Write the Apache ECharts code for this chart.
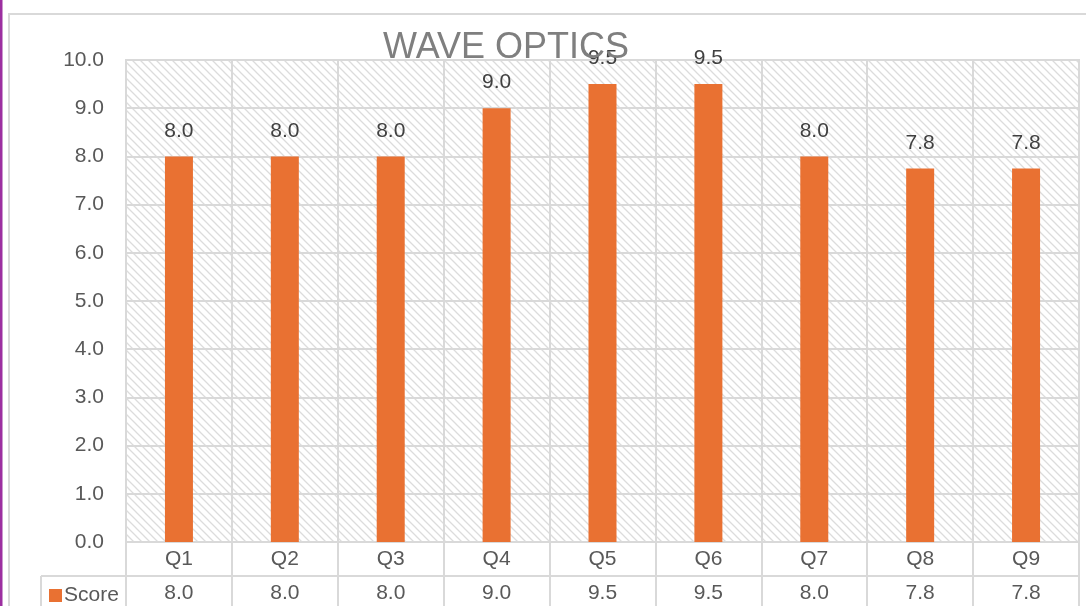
<!DOCTYPE html>
<html>
<head>
<meta charset="utf-8">
<script src="https://cdn.jsdelivr.net/npm/echarts@6/dist/echarts.min.js"></script>
<style>
html,body{margin:0;padding:0;background:#fff;}
#c{width:1086px;height:606px;}
</style>
</head>
<body>
<div id="c"></div>
<script>
const categories = ['Q1','Q2','Q3','Q4','Q5','Q6','Q7','Q8','Q9'];
const scores = [8.0, 8.0, 8.0, 9.0, 9.5, 9.5, 8.0, 7.75, 7.75];
const seriesName = 'Score';
const titleText = 'WAVE OPTICS';

// hatch pattern
const pc = document.createElement('canvas');
pc.width = 8; pc.height = 8;
const ctx = pc.getContext('2d');
ctx.fillStyle = '#ffffff';
ctx.fillRect(0,0,8,8);
ctx.strokeStyle = '#dcdcdc';
ctx.lineWidth = 1.3;
ctx.beginPath();
ctx.moveTo(-2,-2); ctx.lineTo(10,10);
ctx.moveTo(-10,-2); ctx.lineTo(2,10);
ctx.moveTo(6,-2); ctx.lineTo(18,10);
ctx.stroke();

const FONT = 'Liberation Sans, Arial, sans-serif';
const FS = 21;
const chart = echarts.init(document.getElementById('c'), null, {renderer:'canvas'});
chart.setOption({
  animation:false,
  backgroundColor:'#ffffff',
  title:{text:titleText, left:378, top:25, textStyle:{fontSize:36, fontWeight:'normal', color:'#7f7f7f', fontFamily:FONT}},
  legend:{data:[seriesName], left:44, top:580, icon:'rect', itemWidth:13, itemHeight:13, itemGap:6,
    textStyle:{fontSize:FS, color:'#595959', fontFamily:FONT, padding:[0,0,0,-3]}},
  grid:{left:126, right:7, top:60, bottom:64, show:true, backgroundColor:{image:pc, repeat:'repeat'}, borderColor:'#d9d9d9', borderWidth:2},
  xAxis:[{
    type:'category', data:categories, position:'bottom',
    axisLine:{show:true, lineStyle:{color:'#d9d9d9', width:2}},
    axisTick:{show:true, length:34, lineStyle:{color:'#d9d9d9', width:2}},
    axisLabel:{fontSize:FS, color:'#595959', margin:7, fontFamily:FONT},
    splitLine:{show:true, lineStyle:{color:'#d9d9d9', width:2}}
  },{
    type:'category', data:categories, position:'bottom', offset:34,
    axisLine:{show:true, lineStyle:{color:'#d9d9d9', width:2}},
    axisTick:{show:true, length:34, lineStyle:{color:'#d9d9d9', width:2}},
    axisLabel:{fontSize:FS, color:'#595959', margin:7, fontFamily:FONT,
      formatter:function(v,i){return scores[i].toFixed(1);}},
    splitLine:{show:false}
  }],
  yAxis:{type:'value', min:0, max:10, interval:1,
    axisLine:{show:false}, axisTick:{show:false},
    axisLabel:{fontSize:FS, color:'#595959', margin:22, fontFamily:FONT, formatter:function(v){return v.toFixed(1);}},
    splitLine:{show:true, lineStyle:{color:'#d9d9d9', width:2}}
  },
  series:[{
    name:seriesName, type:'bar', data:scores, barWidth:28, xAxisIndex:0,
    itemStyle:{color:'#e97132'},
    label:{show:true, position:'top', distance:15, fontSize:FS, color:'#404040', fontFamily:FONT,
      formatter:function(p){return p.value.toFixed(1);}}
  }],
  graphic:[
    {type:'rect', left:0, top:0, shape:{width:2.5, height:606}, style:{fill:'#9c2fa0'}, silent:true},
    {type:'rect', shape:{x:9, y:14, width:1100, height:620}, style:{fill:null, stroke:'#d9d9d9', lineWidth:2}, silent:true},
    {type:'line', shape:{x1:41, y1:576, x2:126, y2:576}, style:{stroke:'#d9d9d9', lineWidth:2}, silent:true},
    {type:'line', shape:{x1:41, y1:576, x2:41, y2:606}, style:{stroke:'#d9d9d9', lineWidth:2}, silent:true}
  ]
});
</script>
</body>
</html>
